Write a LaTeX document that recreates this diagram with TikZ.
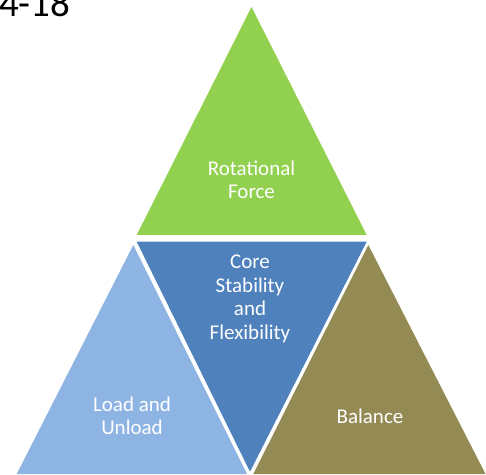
\documentclass[tikz,border=0pt]{standalone}
\usepackage{fontspec}
\setmainfont{Carlito}
\definecolor{tgreen}{HTML}{92D050}
\definecolor{tblue}{HTML}{4F81BD}
\definecolor{tlblue}{HTML}{8EB4E3}
\definecolor{tolive}{HTML}{948A54}
\begin{document}
\begin{tikzpicture}[x=1pt,y=1pt,
  lbl/.style={text=white,align=center,inner sep=0pt,font=\fontsize{21}{23.5}\selectfont}]
\useasboundingbox (0,0) rectangle (486,474);
% triangles (y = 474 - image y)
\fill[tgreen] (251.5,467) -- (366.7,239) -- (136.7,239) -- cycle;
\fill[tblue] (136.7,232.3) -- (366.7,232.3) -- (250,2.3) -- cycle;
\fill[tlblue] (133.3,229) -- (247,0) -- (16.7,0) -- cycle;
\fill[tolive] (368.3,229) -- (485.5,0) -- (253.3,0) -- cycle;
% labels
\node[lbl] (rot) at (251.5,294) {Rotational\\Force};
\node[lbl] (core) at (250,175) {Core\\Stability\\and\\Flexibility};
\node[lbl] (load) at (132,58) {Load and\\Unload};
\node[lbl,anchor=base] (bal) at (370,51) {Balance};
\node[anchor=base west,inner sep=0pt,font=\fontsize{39}{42}\selectfont] (fig) at (-1,457) {4-18};
\end{tikzpicture}
\end{document}
